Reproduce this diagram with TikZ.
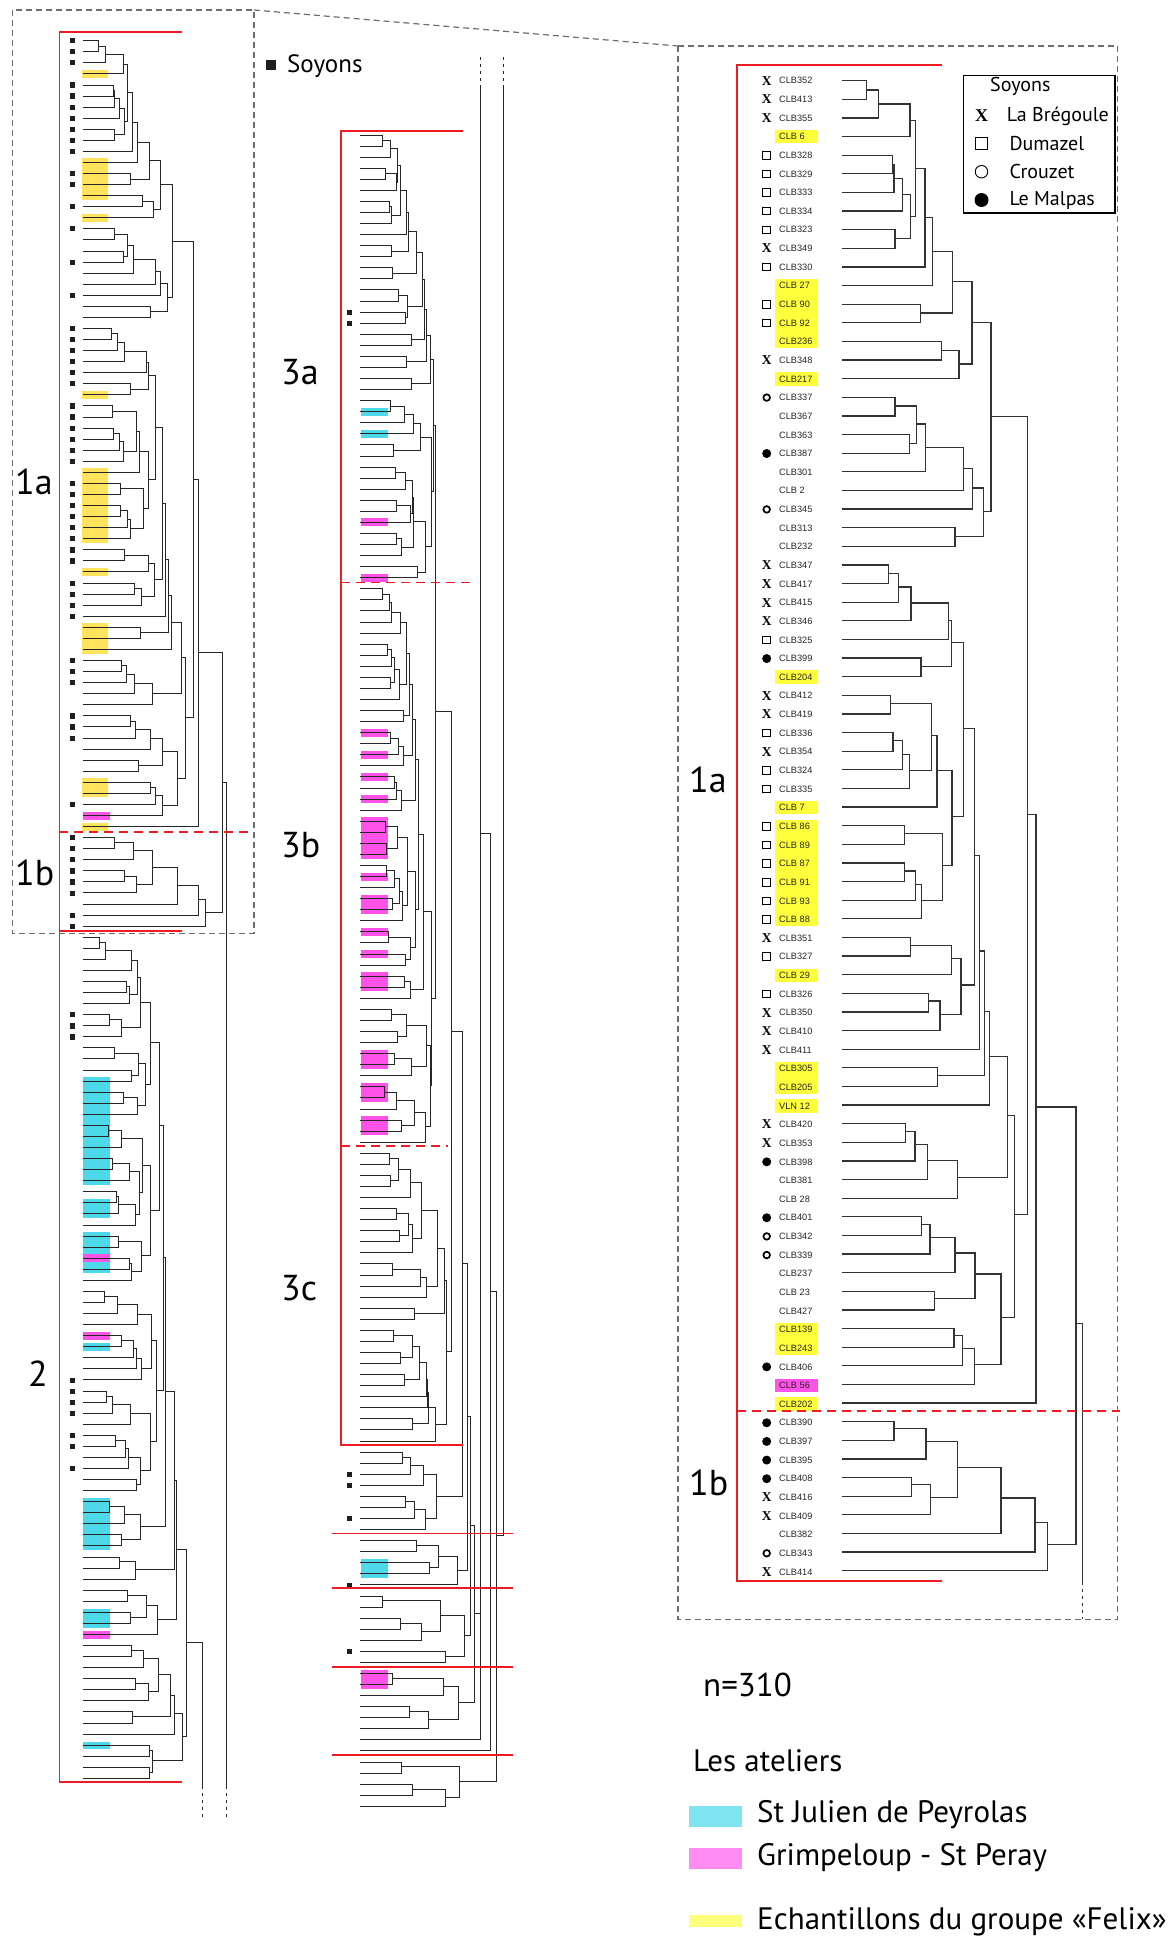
\documentclass[tikz,border=0pt]{standalone}
\usepackage{fontspec}
\setmainfont{PT Sans}
\newfontfamily\lblfont{Liberation Sans}
\newfontfamily\xfont{Liberation Serif}
\usetikzlibrary{calc}
\definecolor{redline}{HTML}{ED1C24}
\definecolor{cyanhl}{HTML}{4DD9EA}
\definecolor{magenhl}{HTML}{FF52E8}
\definecolor{yelhl}{HTML}{FFE35C}
\definecolor{yelbr}{HTML}{FFFF3C}
\definecolor{cyanleg}{HTML}{7FE3F0}
\definecolor{magleg}{HTML}{FF8CF2}
\definecolor{yelleg}{HTML}{FFFF7E}
\definecolor{boxgray}{HTML}{6D6D6D}

\tikzset{
  tline/.style={line width=0.95pt, draw=black!85},
  rline/.style={line width=1.3pt, draw=black!80},
  dtail/.style={dash pattern=on 3pt off 4pt},
  redl/.style={line width=1.6pt, draw=redline},
  redd/.style={redl, dash pattern=on 9pt off 6pt},
  gbox/.style={line width=1.2pt, draw=boxgray, dash pattern=on 6pt off 4pt},
  sqm/.style={fill=black!88, minimum size=5.2pt, inner sep=0pt},
  mX/.style={font=\xfont\bfseries\fontsize{13.5}{13.5}\selectfont, inner sep=0pt},
  mS/.style={draw, line width=1pt, minimum size=7.6pt, inner sep=0pt},
  mC/.style={circle, draw, line width=1.7pt, minimum size=6.6pt, inner sep=0pt},
  mD/.style={circle, fill, minimum size=9pt, inner sep=0pt},
  lbl/.style={font=\lblfont\fontsize{9.2}{9.2}\selectfont, text=black!85, anchor=west, inner sep=0pt},
  grp/.style={font=\fontsize{36}{36}\selectfont, anchor=west, inner sep=0pt},
  leg/.style={font=\fontsize{31}{31}\selectfont, anchor=west, inner sep=0pt},
  swatch/.style={minimum width=53pt, inner sep=0pt},
}

\def\pf{R}
% one bracket of the dendrogram: children #1 #2, height #3, new node #4
\newcommand{\mrg}[4]{%
  \coordinate (tx) at (#3,0);
  \coordinate (tm) at ($(\pf#1)!0.5!(\pf#2)$);
  \coordinate (\pf#4) at (tm -| tx);
  \draw[tree] (\pf#1) -- (\pf#1 -| tx) -- (\pf#2 -| tx) -- (\pf#2);
}

% groups 1a and 1b (81 leaves), drawn twice
\newcommand{\treeOne}{%
  \foreach \a/\b/\x/\n in {1/2/25/a1, a1/3/36.7/a2, a2/4/68.3/a3, 5/6/50.7/a4, a4/7/52.3/a5, a5/8/61/a6, 9/10/53.3/a7, a6/a7/69/a8, a3/a8/74/a9, a9/11/83.3/a10, a10/12/91/a11, 13/14/79/a12, a11/a12/111/a13, 15/16/100/a14, a14/17/117.3/a15, a13/a15/130.3/a16,
    18/19/53.3/b1, 20/21/67.7/b2, b1/b2/75/b3, b3/22/83.7/b4, b4/23/121.7/b5, b5/24/130.7/b6, 25/26/113.3/b7, b6/b7/141.7/b8, a16/b8/149.3/c1,
    27/28/46.7/d1, d1/29/57/d2, d2/30/69.3/d3, d3/31/106.7/d4, 32/33/79.3/d5, d4/d5/109.7/d6,
    34/35/48.7/e1, 36/37/51.3/e2, e2/38/61/e3, e3/39/67.7/e4, e1/e4/90/e5, e5/40/95.3/e6, 41/42/62.7/e7, 43/44/62.7/e8, e8/45/74/e9, e9/46/80/e10, e7/e10/100.7/e11, e6/e11/110.3/e12, d6/e12/121.7/f1,
    47/48/69/g1, g1/49/109.7/g2, 50/51/86.7/g3, g3/52/98.3/g4, g2/g4/119.3/g5, f1/g5/132.7/f2, f2/53/137.7/f3, 54/55/95.7/h1, f3/h1/142.7/f4, f4/56/147.7/f5,
    57/58/64/i1, i1/59/73.3/i2, i2/60/86/i3, i3/61/116/i4, f5/i4/166/f6,
    62/63/80/j1, j1/64/88.3/j2, j2/65/113.3/j3, 66/67/92.7/j4, j3/j4/133.3/j5, 68/69/112.3/k1, k1/70/121/k2, k2/71/132.7/k3, j5/k3/159.3/j6, f6/j6/172.7/f7, c1/f7/186/c2, c2/72/194.3/c3,
    73/74/52.3/m1, m1/75/84.3/m2, 76/77/70/m3, m3/78/89/m4, m2/m4/116/m5, m5/79/159.3/m6, m6/80/193.3/m7, m7/81/205.7/m8, c3/m8/234.3/rt}
    {\mrg{\a}{\b}{\x}{\n}}
}

\begin{document}
\begin{tikzpicture}[x=1pt, y=-1pt]
\useasboundingbox (0,0) rectangle (1174,1939);

% ---------- highlights ----------
\begin{scope}[shift={(0,40.7)}, yscale=11.07]
  \foreach \f/\t in {4/4, 12/15, 17/17, 33/33, 40/46, 49/49, 54/56, 68/69, 72/72}
    \fill[yelhl] (81.7,\f-1.36) rectangle (107.7,\t-0.64);
  \foreach \f/\t in {95/104, 106/107, 109/112, 119/119, 133/137, 143/144, 155/155}
    \fill[cyanhl] (83,\f-1.36) rectangle (110,\t-0.64);
  \foreach \f/\t in {71/71, 111/111, 118/118, 145/145}
    \fill[magenhl] (83,\f-1.36) rectangle (110,\t-0.64);
\end{scope}
\begin{scope}[shift={(360,135)}, yscale=11.07]
  \foreach \f/\t in {26/26, 28/28, 130/131}
    \fill[cyanhl] (0.7,\f-1.36) rectangle (28,\t-0.64);
  \foreach \f/\t in {36/36, 41/41, 55/55, 57/57, 59/59, 61/61, 63/66, 68/68, 70/71, 73/73, 75/75, 77/78, 84/85, 87/88, 90/91, 140/141}
    \fill[magenhl] (0.7,\f-1.36) rectangle (28,\t-0.64);
\end{scope}
\begin{scope}[shift={(841.7,80.7)}, yscale=18.64]
  \foreach \f/\t in {4/4, 12/15, 17/17, 33/33, 40/40, 41/46, 49/49, 54/55, 56/56, 68/69, 72/72}
    \fill[yelbr] (-66.7,\f-1.36) rectangle (-24,\t-0.64);
  \fill[magenhl] (-66.7,71-1.36) rectangle (-24,71-0.64);
\end{scope}

% ---------- left column: 1a / 1b ----------
\begin{scope}[shift={(83.3,40.7)}, xscale=0.594, yscale=11.07, tree/.style={tline}]
  \def\pf{L}
  \foreach \i in {1,...,81} \coordinate (L\i) at (0,\i-1);
  \treeOne
  \coordinate (Lb1) at (241,157.7);
  \coordinate (Le1) at (241,160.6);
  \draw[tree] (Lrt) -- (Lrt -| Lb1) -- (Lb1);
  \draw[tree, dtail] (Lb1) -- (Le1);
\end{scope}

% ---------- left column: 2 ----------
\begin{scope}[shift={(83.3,40.7)}, yscale=11.07, tree/.style={tline}]
  \def\pf{L}
  \foreach \i in {82,...,158} \coordinate (L\i) at (0,\i-1);
  \foreach \a/\b/\x/\n in {82/83/16/q1, q1/84/21.7/q2, q2/85/47.7/q3, 86/87/43.3/q4, q4/88/45.7/q5, q3/q5/54/q6, 89/90/26/q7, q7/91/38.3/q8, q6/q8/57.3/q9, 92/93/31/q10, 94/95/47.7/q11, q10/q11/55/q12, 96/97/40/q13, q13/98/54/q14, q12/q14/62.3/q15, q9/q15/67.3/q16,
    99/100/25/q17, q17/101/37.7/q18, 102/103/29/q19, q19/104/45.7/q20, 105/106/32.7/q21, q21/107/35/q22, q22/108/51.7/q23, q20/q23/56/q24, q18/q24/59.3/q25, 109/110/35/q26, 111/112/46/q27, q27/113/48.3/q28, q26/q28/58.3/q29, q25/q29/66.7/q30, q16/q30/75.7/q31,
    114/115/20.7/q32, q32/116/34.3/q33, q33/117/54/q34, 118/119/38.3/q35, q35/120/50/q36, q36/121/53.3/q37, q37/122/58.3/qa, q34/qa/68.3/q38,
    123/124/22.7/q39, q39/125/29.3/q40, q40/126/47.3/q41, 127/128/32.3/q42, q42/129/41.7/q43, q43/130/45/q44, 131/132/53.3/q45, q44/q45/56.7/q46, q41/q46/67/q47, q38/q47/73.3/q48,
    133/134/26/q49, q49/135/40.7/q50, 136/137/37.7/q51, q50/q51/56.7/q52, q31/q48/80/q53, q53/q52/81.7/q54, 138/139/36/q55, q55/140/51.7/q56, q54/q56/90.7/q57,
    141/142/44.3/q58, 143/144/47.3/q59, q58/q59/63/q60, q60/145/74.3/q61, q57/q61/92.7/q62,
    146/147/48.3/q63, q63/148/60.3/q64, 149/150/52.3/q65, q65/151/64.7/q66, q64/q66/75/q67, 152/153/48.7/q68, q67/q68/86.7/q69, q69/154/90.7/q70, 155/156/66/q71, 157/158/66/q72, q71/q72/69.3/q73, q70/q73/99/q74, q62/q74/103.3/q75}
    {\mrg{\a}{\b}{\x}{\n}}
  \coordinate (Lb2) at (119.3,157.7);
  \coordinate (Le2) at (119.3,160.6);
  \draw[tree] (Lq75) -- (Lq75 -| Lb2) -- (Lb2);
  \draw[tree, dtail] (Lb2) -- (Le2);
\end{scope}

% Soyons squares, left column
\begin{scope}[shift={(0,40.7)}, yscale=11.07]
  \foreach \i in {1,2,3,5,6,7,8,9,10,11,13,14,16,18,21,24,27,28,29,30,31,32,34,35,36,37,38,39,41,42,43,44,45,46,47,48,50,51,52,53,57,58,59,62,63,64,70,73,74,75,76,77,78,80,81,89,90,91,122,123,124,125,127,128,130}
    \node[sqm] (lm\i) at (72.3,\i-1) {};
\end{scope}

% ---------- middle column: 3a, 3b, 3c and the rest ----------
\begin{scope}[shift={(360,135)}, yscale=11.07, tree/.style={tline}]
  \def\pf{M}
  \foreach \i in {1,...,152} \coordinate (M\i) at (0,\i-1);
  \foreach \a/\b/\x/\n in {1/2/22.3/n1, n1/3/30/n2, 4/5/25/n3, n3/6/36/n4, n2/n4/37.3/n5, 7/8/29/n6, n6/9/31/n7, n5/n7/40/n8, n8/10/46.3/n9, 11/12/31/n10, n9/n10/48.3/n11, 13/14/32.3/n12, n11/n12/56/n13, 15/16/38.3/n14, 17/18/45.7/n15, n14/n15/47.7/n16, n13/n16/62.3/n17, 19/20/51/n18, n17/n18/64/n19, 21/22/46.7/n20, n19/n20/66/n21, 23/24/51/n22, n21/n22/70.7/n23,
    25/26/30/p1, p1/27/44.3/p2, p2/28/53.3/p3, 29/30/33.3/p4, p3/p4/60.3/p5, 31/32/35/p6, p6/33/45.3/p7, 34/35/36.7/p8, p8/36/50/p9, p7/p9/52/p10, 37/38/36/p11, p11/39/41.7/p12, p10/p12/53.3/p13, 40/41/57.7/p14, p13/p14/65.7/p15, p5/p15/71/p16, n23/p16/73/ra,
    42/43/22.7/r1, r1/44/29/r2, r2/45/31/r3, r3/46/40/r4, 47/48/27.7/r5, r5/49/31.7/r6, 50/51/30/r7, r6/r7/34/r8, r8/52/39/r9, r4/r9/46/r10, 53/54/43.3/r11, r10/r11/49.3/r12, 55/56/30/r13, r13/57/38.7/r14, r14/58/43.3/r15, r12/r15/52.7/r16, 59/60/34/r17, r17/61/36/r18, r18/62/41.7/r19, r16/r19/55/r20,
    63/64/25.3/r21, 65/66/26/r22, r21/r22/37.3/r23, 67/68/26.7/r24, r24/69/34/r25, 70/71/32/r26, r25/r26/39/r27, r27/72/42.7/r28, r23/r28/47/r29, 73/74/28.3/r30, 75/76/45.3/r31, r30/r31/50/r32, r29/r32/55/r33, r20/r33/58.3/r34,
    77/78/44.3/s1, s1/79/50/s2, r34/s2/63.7/r35, 80/81/31.7/s3, 82/83/37.3/s4, s3/s4/46/s5, 84/85/34.7/s6, s6/86/51.7/s7, s5/s7/66/s8, 87/88/24.3/s9, s9/89/36/s10, 90/91/41/s11, s10/s11/54.3/s12, s12/92/65.3/s13, s8/s13/70.7/s14, r35/s14/71.7/rb,
    ra/rb/75.7/ab,
    93/94/29.3/t1, 95/96/30/t2, t1/t2/38.3/t3, t3/97/50.7/t4, 98/99/36/t5, 100/101/39.3/t6, t5/t6/48.3/t7, t7/102/52.7/t8, t4/t8/61/t9, 103/104/32.3/t10, t10/105/60/t11, t11/106/66.7/t12, t9/t12/77.3/t13, 107/108/54/t14, t13/t14/84/t15,
    109/110/33.3/t16, 111/112/40/t17, t16/t17/52.7/t18, 113/114/44/t19, t18/t19/59.3/t20, t20/115/66/t21, t21/116/67.3/t22, 117/118/52.3/t23, t22/t23/68.3/t24, t24/119/75.7/t25, t15/t25/86/rc,
    ab/rc/91/abc,
    120/121/42.3/u1, u1/122/50/u2, u2/123/63.7/u3, 124/125/45/u4, u4/126/54.7/u5, u5/127/65/u6, u3/u6/76.3/u7, abc/u7/102.3/j1,
    128/129/56.3/v1, 130/131/69/v2, v1/v2/78.3/v3, v3/132/97/v4, j1/v4/107.7/j2,
    133/134/22.7/w1, 135/136/40/w2, w2/137/61.3/w3, w1/w3/80.7/w4, 138/139/85/w5, w4/w5/104/w6, j2/w6/110/j3,
    140/141/32.3/x1, x1/142/83/x2, 143/144/49/x3, x3/145/68.3/x4, x2/x4/98/x5, j3/x5/114.3/j4,
    148/149/41.7/y1, 150/151/52/y2, y2/152/85/y3, y1/y3/99/y4}
    {\mrg{\a}{\b}{\x}{\n}}
  % the two long branches coming over from the left column
  \coordinate (Mt1) at (120,-7.05);
  \coordinate (Mz0) at (120,-4.25);
  \coordinate (Mt2) at (143.7,-7.05);
  \coordinate (Mz5) at (143.7,-4.25);
  \coordinate (Mz2) at (120,63.08);
  \draw[tree] (Mj4) -- (Mj4 -| Mz0);
  \foreach \a/\b/\x/\n in {z0/146/120/z1, z2/147/130.3/z3, z3/y4/136.7/z4, z5/z4/143.7/z6}
    {\mrg{\a}{\b}{\x}{\n}}
  \draw[tree, dtail] (Mt1) -- (Mz0);
  \draw[tree, dtail] (Mt2) -- (Mz5);
  \foreach \i in {17,18,122,123,126,132,138}
    \node[sqm] (mm\i) at (-10.2,\i-1) {};
\end{scope}

% ---------- right column: detail of 1a / 1b ----------
\begin{scope}[shift={(841.7,80.7)}, yscale=18.64, tree/.style={rline}]
  \def\pf{R}
  \foreach \i in {1,...,81} \coordinate (R\i) at (0,\i-1);
  \treeOne
  \coordinate (Rb1) at (241,80.6);
  \coordinate (Re1) at (241,82.58);
  \draw[tree] (Rrt) -- (Rrt -| Rb1) -- (Rb1);
  \draw[tree, dtail] (Rb1) -- (Re1);
  \foreach \i/\t in {1/CLB352, 2/CLB413, 3/CLB355, 4/CLB 6, 5/CLB328, 6/CLB329, 7/CLB333, 8/CLB334, 9/CLB323, 10/CLB349, 11/CLB330, 12/CLB 27, 13/CLB 90, 14/CLB 92, 15/CLB236, 16/CLB348, 17/CLB217, 18/CLB337, 19/CLB367, 20/CLB363, 21/CLB387, 22/CLB301, 23/CLB 2, 24/CLB345, 25/CLB313, 26/CLB232, 27/CLB347, 28/CLB417, 29/CLB415, 30/CLB346, 31/CLB325, 32/CLB399, 33/CLB204, 34/CLB412, 35/CLB419, 36/CLB336, 37/CLB354, 38/CLB324, 39/CLB335, 40/CLB 7, 41/CLB 86, 42/CLB 89, 43/CLB 87, 44/CLB 91, 45/CLB 93, 46/CLB 88, 47/CLB351, 48/CLB327, 49/CLB 29, 50/CLB326, 51/CLB350, 52/CLB410, 53/CLB411, 54/CLB305, 55/CLB205, 56/VLN 12, 57/CLB420, 58/CLB353, 59/CLB398, 60/CLB381, 61/CLB 28, 62/CLB401, 63/CLB342, 64/CLB339, 65/CLB237, 66/CLB 23, 67/CLB427, 68/CLB139, 69/CLB243, 70/CLB406, 71/CLB 56, 72/CLB202, 73/CLB390, 74/CLB397, 75/CLB395, 76/CLB408, 77/CLB416, 78/CLB409, 79/CLB382, 80/CLB343, 81/CLB414}
    \node[lbl] (rl\i) at (-62.7,\i-1) {\t};
  \foreach \i in {1,2,3,10,16,27,28,29,30,34,35,37,47,51,52,53,57,58,77,78,81}
    \node[mX] (rm\i) at (-75,\i-1) {X};
  \foreach \i in {5,6,7,8,9,11,13,14,31,36,38,39,41,42,43,44,45,46,48,50}
    \node[mS] (rm\i) at (-75,\i-1) {};
  \foreach \i in {18,24,63,64,80}
    \node[mC] (rm\i) at (-75,\i-1) {};
  \foreach \i in {21,32,59,62,70,73,74,75,76}
    \node[mD] (rm\i) at (-75,\i-1) {};
\end{scope}

% ---------- red group brackets ----------
\draw[redl] (181.7,31.7) -- (59.3,31.7) -- (59.3,1781.7) -- (181.7,1781.7);
\draw[redl] (59.3,931) -- (181.7,931);
\draw[redd] (59.3,832) -- (248,832);
\draw[redl] (463.3,130.7) -- (341,130.7) -- (341,1445) -- (463.3,1445);
\draw[redd] (341,582.3) -- (470,582.3);
\draw[redd] (341,1146) -- (448.3,1146);
\foreach \yy in {1533.3,1587.7,1666.7,1755}
  \draw[redl] (332,\yy) -- (513.3,\yy);
\draw[redl] (941.7,64.7) -- (737,64.7) -- (737,1580.7) -- (941.7,1580.7);
\draw[redd] (737,1411) -- (1120,1411);

% ---------- zoom frames ----------
\draw[gbox] (12.3,10) rectangle (254,933.3);
\draw[gbox] (254,10) -- (678,46);
\draw[gbox] (678,46) rectangle (1117.7,1619.3);

% ---------- group names ----------
\node[grp] (g1a) at (15,482) {1a};
\node[grp] (g1b) at (15,873) {1b};
\node[grp] (g2) at (28,1374) {2};
\node[grp] (g3a) at (281,372) {3a};
\node[grp] (g3b) at (281,845) {3b};
\node[grp] (g3c) at (281,1288) {3c};
\node[grp] (gr1a) at (689,780) {1a};
\node[grp] (gr1b) at (689,1483) {1b};

% ---------- Soyons keys ----------
\node[fill=black!88, minimum size=10pt, inner sep=0pt] (sqkey) at (271,65.3) {};
\node[font=\fontsize{25}{25}\selectfont, anchor=west, inner sep=0pt] (soy) at (287,66) {Soyons};

\node[draw, line width=1.2pt, minimum width=151.6pt, minimum height=137.3pt, inner sep=0pt, anchor=north west] (sitebox) at (962.7,75) {};
\node[font=\fontsize{20}{20}\selectfont, anchor=west, inner sep=0pt] (sitett) at (990,86) {Soyons};
\node[mX, font=\xfont\bfseries\fontsize{18}{18}\selectfont] (kx) at (981.5,115.5) {X};
\node[mS, minimum size=12.5pt] (ks) at (981.5,143.3) {};
\node[circle, draw, line width=0.9pt, minimum size=12.5pt, inner sep=0pt] (kc) at (981.5,171.7) {};
\node[mD, minimum size=14pt] (kd) at (981.5,200) {};
\node[font=\fontsize{20}{20}\selectfont, anchor=west, inner sep=0pt] (tkx) at (1006.7,116) {La Brégoule};
\node[font=\fontsize{20}{20}\selectfont, anchor=west, inner sep=0pt] (tks) at (1009.3,143.3) {Dumazel};
\node[font=\fontsize{20}{20}\selectfont, anchor=west, inner sep=0pt] (tkc) at (1009.3,171.7) {Crouzet};
\node[font=\fontsize{20}{20}\selectfont, anchor=west, inner sep=0pt] (tkd) at (1009.3,200) {Le Malpas};

% ---------- workshops ----------
\node[leg, font=\fontsize{33}{33}\selectfont] (ntot) at (703,1685) {n=310};
\node[leg] (atel) at (693,1761) {Les ateliers};
\node[swatch, fill=cyanleg, minimum height=21pt] (swc) at (715.5,1816.5) {};
\node[leg] (tswc) at (757,1815) {St Julien de Peyrolas};
\node[swatch, fill=magleg, minimum height=21pt] (swm) at (715.5,1858.5) {};
\node[leg] (tswm) at (757,1858) {Grimpeloup - St Peray};
\node[swatch, fill=yelleg, minimum height=12pt] (swy) at (715.5,1921) {};
\node[leg] (tswy) at (757,1922) {Echantillons du groupe «Felix»};
\end{tikzpicture}
\end{document}
